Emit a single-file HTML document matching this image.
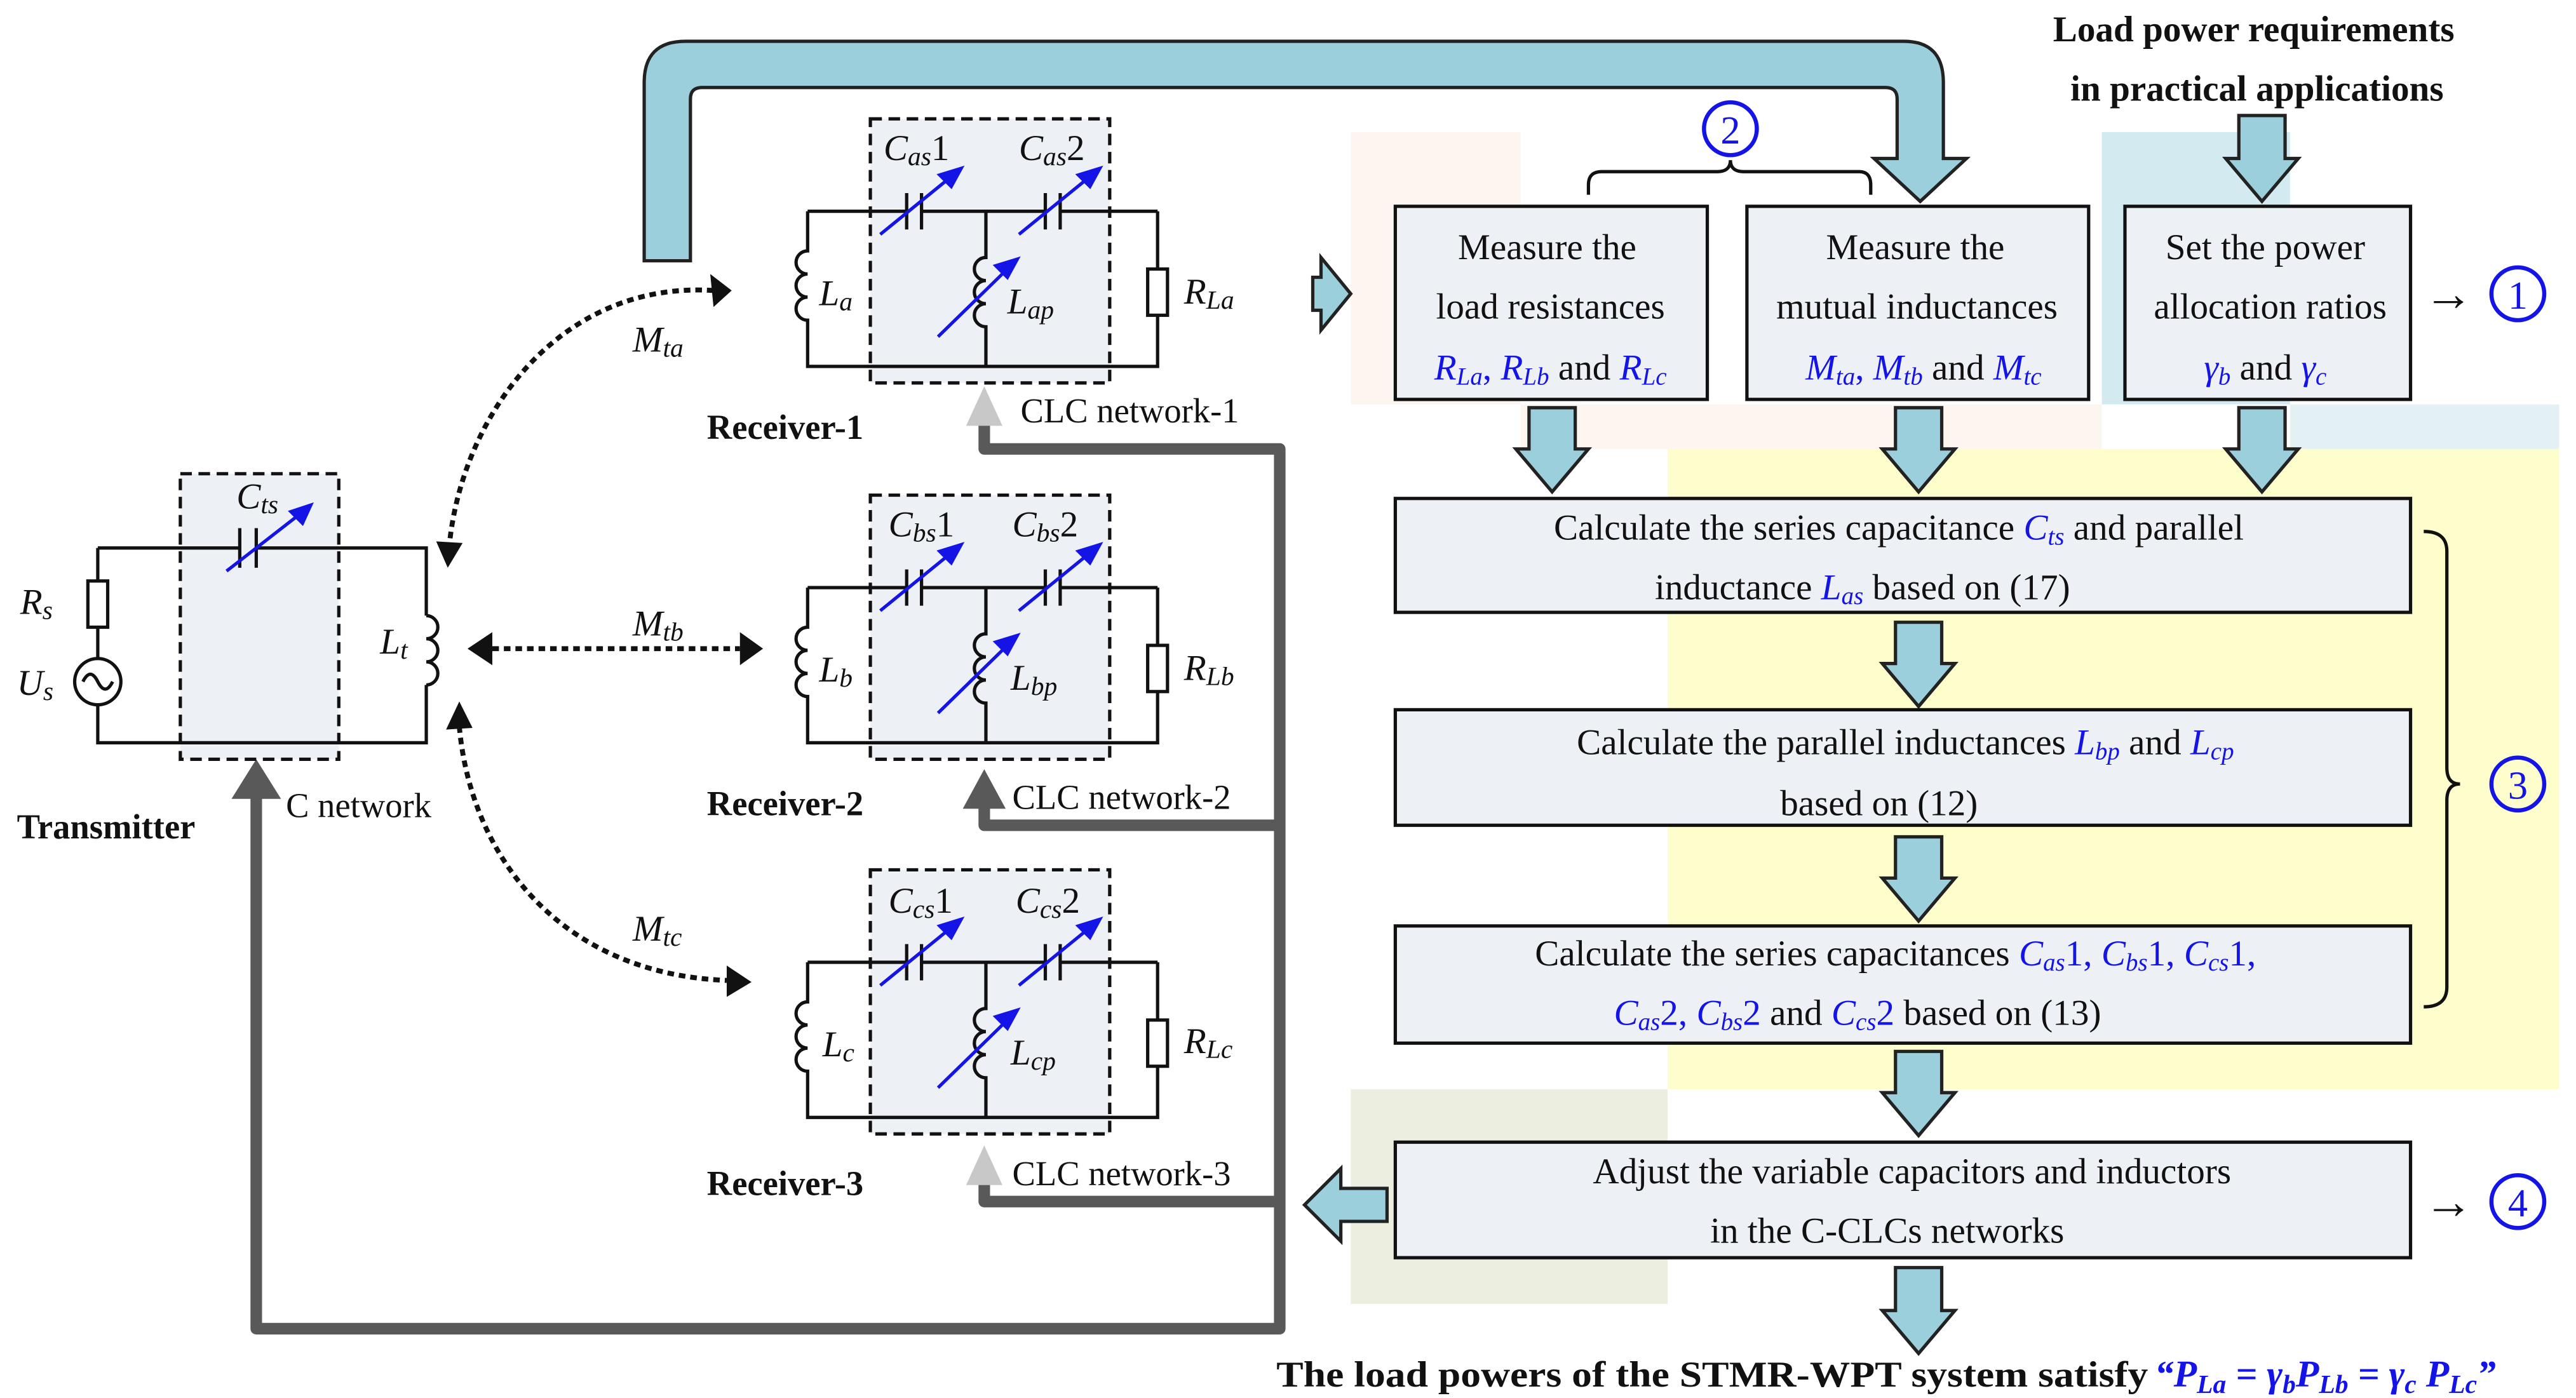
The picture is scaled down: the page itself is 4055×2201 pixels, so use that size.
<!DOCTYPE html>
<html><head><meta charset="utf-8">
<style>
html,body{margin:0;padding:0;background:#fff;}
svg{display:block;}
text{font-family:"Liberation Serif",serif;}
</style></head>
<body>
<svg width="4055" height="2201" viewBox="0 0 1560 847" xmlns="http://www.w3.org/2000/svg">
<!-- background tints -->
<rect x="818" y="80" width="103" height="165" fill="#fdf5f0"/>
<rect x="921" y="245" width="352" height="27" fill="#fdf5f0"/>
<rect x="1273" y="80" width="114" height="165" fill="#d3eaf0"/>
<rect x="1387" y="245" width="163" height="27" fill="#e3f0f4"/>
<rect x="1010" y="272" width="540" height="388" fill="#fefdcc"/>
<rect x="818" y="660" width="192" height="130" fill="#ecefdf"/>

<!-- top pipe -->
<path d="M390,158 V50 Q390,25 415,25 H1153 Q1177,25 1177,50 V96 H1191 L1163,122 L1135,96 H1149 V60 Q1149,53 1142,53 H425 Q418,53 418,60 V158 Z" fill="#9bcfdc" stroke="#222" stroke-width="2"/>

<!-- gray feedback lines -->
<g stroke="#595959" stroke-width="7" fill="none" stroke-linejoin="round">
<path d="M596,256 V272 H775 V805 H155 V480"/>
<path d="M596,484 V500 H775"/>
<path d="M596,714 V728 H775"/>
</g>
<polygon points="140,484 155,460 170,484" fill="#595959"/>
<polygon points="583,490 596,466 609,490" fill="#595959"/>
<polygon points="585,258 596,234 607,258" fill="#c8c8c8"/>
<polygon points="585,718 596,694 607,718" fill="#c8c8c8"/>

<!-- block arrows -->
<g fill="#9bcfdc" stroke="#222" stroke-width="2">
<path d="M926,247 H954 V272 H962 L940,298 L918,272 H926 Z"/>
<path d="M1148,247 H1176 V272 H1184 L1162,298 L1140,272 H1148 Z"/>
<path d="M1356,247 H1384 V272 H1392 L1370,298 L1348,272 H1356 Z"/>
<path d="M1356,70 H1384 V96 H1392 L1370,122 L1348,96 H1356 Z"/>
<path d="M1148,377 H1176 V402 H1184 L1162,428 L1140,402 H1148 Z"/>
<path d="M1148,507 H1176 V532 H1184 L1162,558 L1140,532 H1148 Z"/>
<path d="M1148,637 H1176 V662 H1184 L1162,688 L1140,662 H1148 Z"/>
<path d="M1148,768 H1176 V794 H1184 L1162,820 L1140,794 H1148 Z"/>
<path d="M795,168 H800 V156 L818,178 L800,200 V188 H795 Z"/>
<path d="M840,720 H812 V708 L790,730 L812,752 V740 H840 Z"/>
</g>

<!-- boxes -->
<g fill="#edf0f5" stroke="#111" stroke-width="2">
<rect x="845" y="125" width="189" height="117"/>
<rect x="1058" y="125" width="207" height="117"/>
<rect x="1287" y="125" width="173" height="117"/>
<rect x="845" y="302" width="615" height="69"/>
<rect x="845" y="430" width="615" height="70"/>
<rect x="845" y="561" width="615" height="71"/>
<rect x="845" y="692" width="615" height="70"/>
</g>

<!-- box texts -->
<g font-size="22" text-anchor="middle" fill="#111">
<text x="937" y="157">Measure the</text>
<text x="939" y="193">load resistances</text>
<text x="939" y="230"><tspan fill="#1414e6" font-style="italic">R<tspan font-size="15" dy="3">La</tspan></tspan><tspan dy="-3" fill="#1414e6">, </tspan><tspan fill="#1414e6" font-style="italic">R<tspan font-size="15" dy="3">Lb</tspan></tspan><tspan dy="-3"> and </tspan><tspan fill="#1414e6" font-style="italic">R<tspan font-size="15" dy="3">Lc</tspan></tspan></text>
<text x="1160" y="157">Measure the</text>
<text x="1161" y="193">mutual inductances</text>
<text x="1165" y="230"><tspan fill="#1414e6" font-style="italic">M<tspan font-size="15" dy="3">ta</tspan></tspan><tspan dy="-3" fill="#1414e6">, </tspan><tspan fill="#1414e6" font-style="italic">M<tspan font-size="15" dy="3">tb</tspan></tspan><tspan dy="-3"> and </tspan><tspan fill="#1414e6" font-style="italic">M<tspan font-size="15" dy="3">tc</tspan></tspan></text>
<text x="1372" y="157">Set the power</text>
<text x="1375" y="193">allocation ratios</text>
<text x="1372" y="230"><tspan fill="#1414e6" font-style="italic">γ<tspan font-size="15" dy="3">b</tspan></tspan><tspan dy="-3"> and </tspan><tspan fill="#1414e6" font-style="italic">γ<tspan font-size="15" dy="3">c</tspan></tspan></text>

<text x="1150" y="327">Calculate the series capacitance <tspan fill="#1414e6" font-style="italic">C<tspan font-size="15" dy="3">ts</tspan></tspan><tspan dy="-3"> and parallel</tspan></text>
<text x="1128" y="363">inductance <tspan fill="#1414e6" font-style="italic">L<tspan font-size="15" dy="3">as</tspan></tspan><tspan dy="-3"> based on (17)</tspan></text>
<text x="1154" y="457">Calculate the parallel inductances <tspan fill="#1414e6" font-style="italic">L<tspan font-size="15" dy="3">bp</tspan></tspan><tspan dy="-3"> and </tspan><tspan fill="#1414e6" font-style="italic">L<tspan font-size="15" dy="3">cp</tspan></tspan></text>
<text x="1138" y="494">based on (12)</text>
<text x="1148" y="585">Calculate the series capacitances <tspan fill="#1414e6"><tspan font-style="italic">C<tspan font-size="15" dy="3">as</tspan></tspan><tspan dy="-3">1, </tspan><tspan font-style="italic">C<tspan font-size="15" dy="3">bs</tspan></tspan><tspan dy="-3">1, </tspan><tspan font-style="italic">C<tspan font-size="15" dy="3">cs</tspan></tspan><tspan dy="-3">1,</tspan></tspan></text>
<text x="1125" y="621"><tspan fill="#1414e6"><tspan font-style="italic">C<tspan font-size="15" dy="3">as</tspan></tspan><tspan dy="-3">2, </tspan><tspan font-style="italic">C<tspan font-size="15" dy="3">bs</tspan></tspan><tspan dy="-3">2</tspan></tspan> and <tspan fill="#1414e6"><tspan font-style="italic">C<tspan font-size="15" dy="3">cs</tspan></tspan><tspan dy="-3">2</tspan></tspan> based on (13)</text>
<text x="1158" y="717">Adjust the variable capacitors and inductors</text>
<text x="1143" y="753">in the C-CLCs networks</text>
</g>

<!-- titles -->
<g font-size="22" font-weight="bold" text-anchor="middle" fill="#111">
<text x="1365" y="25">Load power requirements</text>
<text x="1367" y="61">in practical applications</text>
</g>
<text x="773" y="840" font-size="22" font-weight="bold" fill="#111" textLength="528" lengthAdjust="spacingAndGlyphs">The load powers of the STMR-WPT system satisfy</text>
<text x="1305" y="840" font-size="23" font-weight="bold" font-style="italic" fill="#1414e6">“P<tspan font-size="16" dy="4">La</tspan><tspan dy="-4"> = γ</tspan><tspan font-size="16" dy="4">b</tspan><tspan dy="-4">P</tspan><tspan font-size="16" dy="4">Lb</tspan><tspan dy="-4"> = γ</tspan><tspan font-size="16" dy="4">c</tspan><tspan dy="-4"> P</tspan><tspan font-size="16" dy="4">Lc</tspan><tspan dy="-4">”</tspan></text>

<!-- braces -->
<path d="M962,118 V112 Q962,104 970,104 H1040 Q1048,104 1048,97 Q1048,104 1056,104 H1126 Q1133,104 1133,112 V118" fill="none" stroke="#111" stroke-width="2"/>
<path d="M1468,322 Q1482,322 1482,334 V465 Q1482,475 1490,475 Q1482,475 1482,485 V598 Q1482,610 1468,610" fill="none" stroke="#111" stroke-width="2"/>

<!-- circled numbers -->
<g fill="none" stroke="#1414e6" stroke-width="2.5">
<circle cx="1048" cy="78" r="16"/>
<circle cx="1525" cy="178" r="16"/>
<circle cx="1525" cy="475" r="16"/>
<circle cx="1525" cy="728" r="16"/>
</g>
<g font-size="24" fill="#1414e6" text-anchor="middle">
<text x="1048" y="87">2</text>
<text x="1525" y="187">1</text>
<text x="1525" y="484">3</text>
<text x="1525" y="737">4</text>
</g>
<g font-size="30" fill="#111">
<text x="1468" y="188">→</text>
<text x="1468" y="738">→</text>
</g>

<!-- transmitter -->
<rect x="109" y="287" width="96" height="173" fill="#edf0f5"/>
<rect x="109" y="287" width="96" height="173" fill="none" stroke="#111" stroke-width="2" stroke-dasharray="7,4"/>
<g fill="none" stroke="#111" stroke-width="2">
<path d="M59,332 H145 M155,332 H258 V373"/>
<path d="M258,373 a7,7 0 0 1 0,14 a7,7 0 0 1 0,14 a7,7 0 0 1 0,14"/>
<path d="M258,415 V450 H59 V427"/>
<circle cx="59" cy="413" r="14"/>
<path d="M50,413 q4.5,-9 9,0 q4.5,9 9,0"/>
<path d="M59,399 V380"/>
<rect x="53" y="352" width="12" height="28"/>
<path d="M59,352 V332"/>
<path d="M145,320 V344 M155,320 V344"/>
</g>
<g stroke="#1414e6" stroke-width="2" fill="#1414e6">
<line x1="137" y1="346" x2="182" y2="311"/>
<polygon points="188,306 176,310 183,317"/>
</g>
<g font-size="22" font-style="italic" fill="#111">
<text x="143" y="308">C<tspan font-size="16" dy="3">ts</tspan></text>
<text x="12" y="372">R<tspan font-size="16" dy="3">s</tspan></text>
<text x="10" y="421">U<tspan font-size="16" dy="3">s</tspan></text>
<text x="230" y="396">L<tspan font-size="16" dy="3">t</tspan></text>
<text x="383" y="213">M<tspan font-size="16" dy="3">ta</tspan></text>
<text x="383" y="385">M<tspan font-size="16" dy="3">tb</tspan></text>
<text x="383" y="570">M<tspan font-size="16" dy="3">tc</tspan></text>
</g>
<text x="10" y="508" font-size="21" font-weight="bold" fill="#111">Transmitter</text>
<text x="173" y="495" font-size="21" fill="#111">C network</text>

<!-- coupling arrows -->
<g fill="none" stroke="#111" stroke-width="3" stroke-dasharray="4,3">
<path d="M432,176 C340,170 280,250 272,330"/>
<path d="M298,393 H448"/>
<path d="M278,440 C285,520 340,590 440,594"/>
</g>
<g fill="#111">
<polygon points="443,176 430,166 432,186"/>
<polygon points="271,344 264,328 280,329"/>
<polygon points="283,393 298,383 298,403"/>
<polygon points="462,393 448,383 448,403"/>
<polygon points="278,425 270,442 286,441"/>
<polygon points="455,595 440,585 440,604"/>
</g>

<!-- receivers -->
<defs>
<g id="rx">
<rect x="527" y="72" width="145" height="160" fill="#edf0f5"/>
<g fill="none" stroke="#111" stroke-width="2">
<path d="M489,128 H549 M558,128 H633 M642,128 H701"/>
<path d="M549,117 V139 M558,117 V139 M633,117 V139 M642,117 V139"/>
<path d="M489,128 V152 a7,7 0 0 0 0,14 a7,7 0 0 0 0,14 a7,7 0 0 0 0,14 V222 H701 V191"/>
<path d="M597,128 V156 a7,7 0 0 0 0,14 a7,7 0 0 0 0,14 a7,7 0 0 0 0,14 V222"/>
<rect x="695" y="163" width="12" height="28"/>
<path d="M701,163 V128"/>
</g>
<rect x="527" y="72" width="145" height="160" fill="none" stroke="#111" stroke-width="2" stroke-dasharray="7,4"/>
<g stroke="#1414e6" stroke-width="2" fill="#1414e6">
<line x1="533" y1="142" x2="576" y2="107"/><polygon points="582,102 569,106 576,113"/>
<line x1="617" y1="142" x2="660" y2="107"/><polygon points="666,102 653,106 660,113"/>
<line x1="568" y1="204" x2="610" y2="163"/><polygon points="616,157 603,161 610,168"/>
</g>
</g>
</defs>
<use href="#rx"/>
<use href="#rx" y="228"/>
<use href="#rx" y="455"/>
<g font-size="22" fill="#111">
<text x="535" y="97"><tspan font-style="italic">C<tspan font-size="16" dy="3">as</tspan></tspan><tspan dy="-3">1</tspan></text>
<text x="617" y="97"><tspan font-style="italic">C<tspan font-size="16" dy="3">as</tspan></tspan><tspan dy="-3">2</tspan></text>
<text x="538" y="325"><tspan font-style="italic">C<tspan font-size="16" dy="3">bs</tspan></tspan><tspan dy="-3">1</tspan></text>
<text x="613" y="325"><tspan font-style="italic">C<tspan font-size="16" dy="3">bs</tspan></tspan><tspan dy="-3">2</tspan></text>
<text x="538" y="553"><tspan font-style="italic">C<tspan font-size="16" dy="3">cs</tspan></tspan><tspan dy="-3">1</tspan></text>
<text x="615" y="553"><tspan font-style="italic">C<tspan font-size="16" dy="3">cs</tspan></tspan><tspan dy="-3">2</tspan></text>
</g>
<g font-size="22" font-style="italic" fill="#111">
<text x="496" y="185">L<tspan font-size="16" dy="3">a</tspan></text>
<text x="610" y="190">L<tspan font-size="16" dy="3">ap</tspan></text>
<text x="717" y="184">R<tspan font-size="16" dy="3">La</tspan></text>
<text x="496" y="413">L<tspan font-size="16" dy="3">b</tspan></text>
<text x="612" y="418">L<tspan font-size="16" dy="3">bp</tspan></text>
<text x="717" y="412">R<tspan font-size="16" dy="3">Lb</tspan></text>
<text x="498" y="640">L<tspan font-size="16" dy="3">c</tspan></text>
<text x="612" y="645">L<tspan font-size="16" dy="3">cp</tspan></text>
<text x="717" y="638">R<tspan font-size="16" dy="3">Lc</tspan></text>
</g>
<g font-size="21" font-weight="bold" fill="#111">
<text x="428" y="266">Receiver-1</text>
<text x="428" y="494">Receiver-2</text>
<text x="428" y="724">Receiver-3</text>
</g>
<g font-size="21" fill="#111">
<text x="618" y="256">CLC network-1</text>
<text x="613" y="490">CLC network-2</text>
<text x="613" y="718">CLC network-3</text>
</g>
</svg>
</body></html>
